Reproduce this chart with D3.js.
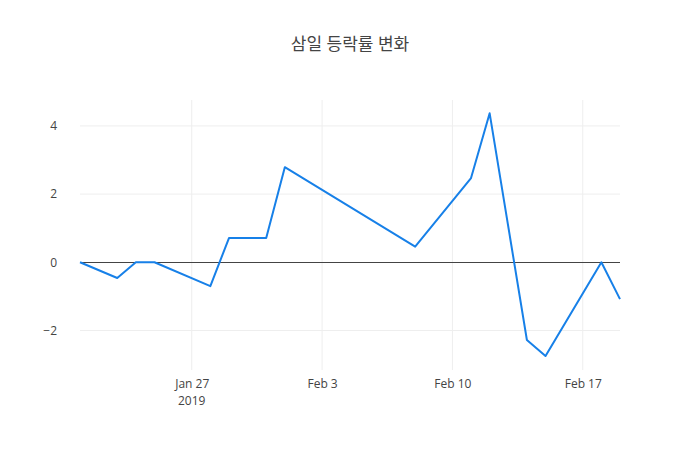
<!DOCTYPE html>
<html>
<head>
<meta charset="utf-8">
<script src="https://cdn.jsdelivr.net/npm/d3@7"></script>
<style>
  body { margin: 0; background: #fff; }
  text { font-family: "Open Sans", "Noto Sans CJK KR", sans-serif; }
</style>
</head>
<body>
<div id="chart"></div>
<script>
var dates = ['2019-01-21', '2019-01-23', '2019-01-24', '2019-01-25', '2019-01-28', '2019-01-29',
  '2019-01-31', '2019-02-01', '2019-02-08', '2019-02-11', '2019-02-12', '2019-02-14',
  '2019-02-15', '2019-02-18', '2019-02-19'];
var changes = [0, -0.46, 0, 0, -0.70, 0.71, 0.71, 2.79, 0.46, 2.47, 4.37, -2.28, -2.75, 0, -1.08];
var yTicks = [-2, 0, 2, 4];
var xTickDates = ['2019-01-27', '2019-02-03', '2019-02-10', '2019-02-17'];
var yearLabel = '2019';
var title = '삼일 등락률 변화';

var width = 700, height = 450;
var margin = {left: 80, right: 80, top: 100, bottom: 80};

var parse = d3.timeParse('%Y-%m-%d');
var points = dates.map(function(d, i) { return {date: parse(d), value: changes[i]}; });

var svg = d3.select('#chart').append('svg')
  .attr('width', width)
  .attr('height', height);

var x = d3.scaleTime()
  .domain(d3.extent(points, function(d) { return d.date; }))
  .range([margin.left, width - margin.right]);

var y = d3.scaleLinear()
  .domain([-3.16, 4.76])
  .range([height - margin.bottom, margin.top]);

// grid
svg.append('g')
  .selectAll('line.vgrid')
  .data(xTickDates.map(parse))
  .enter().append('line')
  .attr('x1', function(d) { return x(d); })
  .attr('x2', function(d) { return x(d); })
  .attr('y1', margin.top)
  .attr('y2', height - margin.bottom)
  .attr('stroke', '#eee')
  .attr('stroke-width', 1);

svg.append('g')
  .selectAll('line.hgrid')
  .data(yTicks.filter(function(t) { return t !== 0; }))
  .enter().append('line')
  .attr('x1', margin.left)
  .attr('x2', width - margin.right)
  .attr('y1', function(d) { return y(d); })
  .attr('y2', function(d) { return y(d); })
  .attr('stroke', '#eee')
  .attr('stroke-width', 1);

// zero line
svg.append('line')
  .attr('x1', margin.left)
  .attr('x2', width - margin.right)
  .attr('y1', Math.round(y(0)) + 0.5)
  .attr('y2', Math.round(y(0)) + 0.5)
  .attr('stroke', '#444')
  .attr('stroke-width', 1);

// y axis labels
var yAxis = svg.append('g')
  .attr('transform', 'translate(' + margin.left + ',0)')
  .call(d3.axisLeft(y).tickValues(yTicks).tickSize(0).tickPadding(23)
    .tickFormat(function(d) { return d < 0 ? '\u2212' + Math.abs(d) : d; }));
yAxis.select('.domain').remove();
yAxis.selectAll('text').attr('font-size', 12).attr('fill', '#444')
  .attr('font-family', '"Open Sans", sans-serif');

// x axis labels
var fmt = d3.timeFormat('%b %-d');
var xAxis = svg.append('g')
  .attr('transform', 'translate(0,' + (height - margin.bottom) + ')')
  .call(d3.axisBottom(x).tickValues(xTickDates.map(parse)).tickSize(0).tickPadding(9)
    .tickFormat(fmt));
xAxis.select('.domain').remove();
xAxis.selectAll('text').attr('font-size', 12).attr('fill', '#444')
  .attr('font-family', '"Open Sans", sans-serif');

svg.append('text')
  .attr('x', x(parse(xTickDates[0])))
  .attr('y', height - margin.bottom + 35)
  .attr('text-anchor', 'middle')
  .attr('font-size', 12)
  .attr('fill', '#444')
  .attr('font-family', '"Open Sans", sans-serif')
  .text(yearLabel);

// line
var line = d3.line()
  .x(function(d) { return x(d.date); })
  .y(function(d) { return y(d.value); });

svg.append('path')
  .datum(points)
  .attr('d', line)
  .attr('fill', 'none')
  .attr('stroke', 'rgb(23,128,232)')
  .attr('stroke-width', 2)
  .attr('stroke-linejoin', 'round');

// title
svg.append('text')
  .attr('x', width / 2)
  .attr('y', 50)
  .attr('text-anchor', 'middle')
  .attr('font-size', 17)
  .attr('fill', '#444')
  .attr('font-family', '"Noto Sans CJK KR", sans-serif')
  .text(title);
</script>
</body>
</html>
